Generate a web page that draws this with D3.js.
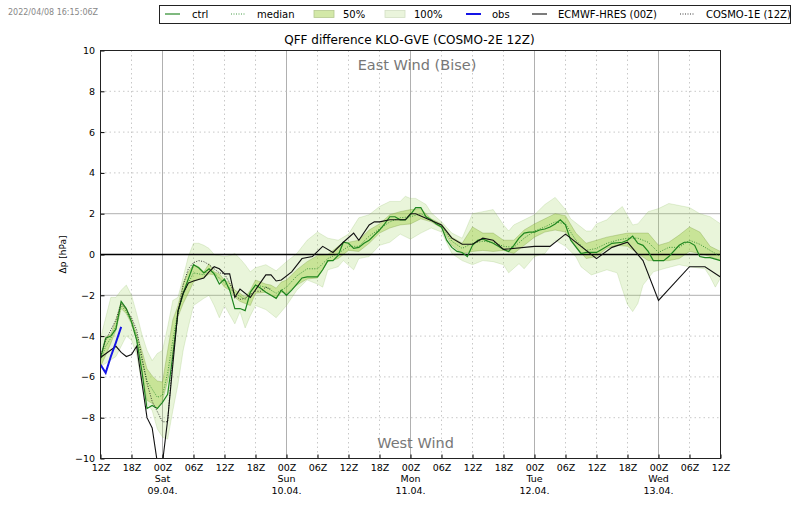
<!DOCTYPE html>
<html>
<head>
<meta charset="utf-8">
<script src="https://cdnjs.cloudflare.com/ajax/libs/d3/7.8.5/d3.min.js"></script>
<style>
  html, body { margin: 0; padding: 0; background: #fff; }
  svg { display: block; }
  text { font-family: "DejaVu Sans", sans-serif; fill: #000; }
</style>
</head>
<body>
<div id="chart"></div>
<script>
const width = 800;
const height = 509;

// hours since 08.04. 12Z
const xTickHours = d3.range(0, 121, 6);
const xTickLabels = ["12Z","18Z","00Z","06Z","12Z","18Z","00Z","06Z","12Z","18Z","00Z","06Z","12Z","18Z","00Z","06Z","12Z","18Z","00Z","06Z","12Z"];
const dayHours = [12, 36, 60, 84, 108];
const dayNames = ["Sat", "Sun", "Mon", "Tue", "Wed"];
const dayDates = ["09.04.", "10.04.", "11.04.", "12.04.", "13.04."];
const yTicks = [-10, -8, -6, -4, -2, 0, 2, 4, 6, 8, 10];

const maxHours = [0,1,2,3,4,5,6,7,8,9,10,11,12,13,14,15,16,17,18,19,20,21,22,23,24,25,26,27,28,29,30,32,34,36,38,40,42,44,46,48,50,52,54,56,58,59,60,61,63,64,66,68,70,72,74,76,78,79,80,82,84,86,88,90,91,94,95,96,98,99,101,102,103,104,106,108,110,112,114,116,118,120];
const maxValues = [-4.1,-3.1,-2.1,-2.1,-1.75,-1.5,-2,-2.9,-3.9,-4.7,-5.2,-4.85,-4.7,-3.55,-2.25,-2.1,-1.1,-0.1,0.55,0.55,0.45,0.3,0,-0.05,-0.1,-0.05,0.05,-0.2,-0.5,-0.85,-0.65,-0.5,-0.8,-0.35,0.05,0.7,1.1,0.8,0.7,1,1.8,1.95,2.35,2.6,2.6,2.85,2.75,2.75,2.45,2.05,1.6,1.05,0.8,2,2.1,2.2,1.45,1.15,1.45,1.7,1.95,2.45,2.8,2.2,1.75,1.15,1.15,1.5,1.7,1.95,2.35,1.9,1.45,1.5,2.1,2.25,2.5,2.4,2.3,2,1.85,1.5];
const minHours = [0,3,5,6,7,8,9,10,11,12,13,14,15,16,17,18,20,21,22,23,24,26,27,28,29,30,32,34,36,38,40,42,43,44,46,47,49,50,52,54,56,58,60,62,64,66,68,70,72,74,76,78,79,81,82,84,86,88,90,92,93,95,98,100,101,102,103,104,105,107,109,112,114,117,118,119,120];
const minValues = [-5.5,-5,-4,-4.2,-4.9,-6.35,-7.3,-7.65,-8.55,-8.95,-9.05,-7.65,-6.35,-4.7,-3.55,-2.5,-2.15,-2,-2.5,-3.1,-2.5,-3.4,-2.8,-3.6,-3,-2.5,-2.7,-3.1,-2.5,-1.75,-1.25,-1.45,-1.6,-0.75,-0.6,-0.3,-0.75,-0.2,-0.1,0.45,0.6,1,0.75,1.05,1.3,1.1,0.05,-0.3,-0.5,-0.3,-0.35,-0.5,-0.9,-0.45,-0.7,-0.1,0.05,0.7,0.4,-0.1,-0.6,-1,-0.75,-0.9,-1.7,-2.45,-2.8,-2.4,-1.5,-0.85,-0.7,-0.5,-0.6,-0.7,-1.1,-1.6,-1.15];

const q75Hours = [0,1,2,3,4,5,6,7,8,9,10,11,12,13,14,15,16,17,18,19,20,21,22,23,24,25,26,27,28,29,30,32,33,34,35,36,38,40,42,44,46,47,48,50,52,54,56,58,60,62,64,66,68,70,72,74,76,78,80,82,84,86,88,90,92,94,96,98,100,102,104,106,108,110,112,114,116,118,120];
const q75Values = [-5,-4.05,-3.9,-3.2,-2.3,-2.65,-3.15,-3.9,-4.7,-5.6,-5.95,-6.2,-6.25,-4.7,-3.2,-2.5,-1.4,-0.85,-0.5,-0.6,-0.85,-0.45,-0.85,-0.95,-1.25,-1.4,-1.75,-1.9,-2.1,-1.75,-1.25,-1.45,-1.5,-1.65,-1.35,-1.25,-0.75,-0.35,-0.05,0,0.4,0.6,0.6,0.7,1.2,1.5,1.95,2.1,2.2,2.25,1.75,1.5,0.85,0.55,1.35,1.05,1.05,0.7,0.7,1.2,1.5,1.75,2,1.9,1.05,0.55,0.7,0.85,0.95,1.05,1.05,1.05,0.45,0.6,0.95,1.35,1.1,0.4,0.15];
const q25Hours = [0,1,2,3,4,5,6,7,8,9,10,11,12,13,14,15,16,17,18,19,20,21,22,23,24,25,26,27,28,29,30,32,34,35,36,38,40,42,44,46,48,50,52,54,56,58,60,62,64,66,68,70,72,74,76,78,80,82,84,86,88,90,92,94,96,98,100,102,104,106,108,110,112,114,116,118,120];
const q25Values = [-5.5,-4.95,-4.35,-3.7,-2.65,-2.9,-3.4,-4.2,-5.75,-7.15,-7.3,-7.55,-7.15,-6.2,-4.7,-3.05,-2.4,-1.9,-1.35,-1.2,-1.15,-0.95,-1,-1.25,-1.6,-1.75,-2.1,-2.3,-2.4,-2.5,-1.9,-1.85,-2.15,-1.85,-1.9,-1.5,-1.2,-1.15,-0.35,-0.2,0.2,0.15,0.55,1.05,1.3,1.45,1.5,1.75,1.6,1.3,0.45,0.05,0.15,0.2,0.15,0.2,0.05,0.45,0.85,1.1,1.2,1.1,0.4,-0.2,-0.1,0.3,0.45,0.4,0.05,-0.3,-0.3,-0.3,-0.2,0.15,0.05,-0.1,-0.3];

const medianHours = [0,1,2,3,4,5,6,7,8,9,10,11,12,13,14,15,16,17,18,20,21,22,24,26,28,30,32,34,36,38,40,42,44,46,48,50,52,54,56,58,60,62,64,66,68,70,72,74,76,78,80,82,84,86,88,90,92,94,96,98,100,102,104,106,108,110,112,114,116,118,120];
const medianValues = [-5.2,-4.5,-4.1,-3.5,-2.5,-2.8,-3.3,-4,-5.2,-6.2,-6.6,-7,-6.9,-5.8,-4.2,-2.8,-2,-1.4,-0.9,-1,-0.7,-0.9,-1.4,-1.9,-2.2,-1.5,-1.6,-1.9,-1.6,-1.05,-0.7,-0.7,-0.2,0.05,0.4,0.4,0.9,1.25,1.6,1.8,1.85,2,1.7,1.4,0.65,0.3,0.55,0.65,0.6,0.4,0.35,0.8,1.15,1.35,1.6,1.5,0.7,0.2,0.3,0.55,0.7,0.8,0.8,0.6,0.1,0.35,0.35,0.7,0.5,0.2,-0.1];

const ctrlHours = [0,1,2,3,4,5,6,7,8,9,10,11,12,13,14,15,16,17,18,19,20,21,22,23,24,25,26,27,28,29,30,31,32,33,34,35,36,37,38,39,40,42,43,44,45,46,47,48,49,50,51,52,53,54,55,56,57,58,59,60,61,62,63,64,65,66,67,68,69,70,71,72,73,74,76,77,78,79,80,81,82,83,84,85,86,87,88,89,90,91,93,94,96,97,99,101,102,103,104,105,106,107,108,109,110,112,113,114,115,116,117,118,120];
const ctrlValues = [-5.1,-4.1,-4,-3.65,-2.3,-2.65,-3.3,-4.2,-5.7,-7.55,-7.4,-7.55,-7.25,-6.85,-4.95,-2.8,-1.9,-1.2,-0.5,-0.65,-0.9,-0.7,-0.95,-1.45,-1.2,-1.75,-2.65,-2.65,-2.75,-1.85,-1.5,-1.65,-1.85,-2,-2.15,-1.75,-2,-1.75,-1.45,-1.15,-1.1,-1.1,-0.75,-0.3,-0.3,-0.05,0.6,0.55,0.3,0.35,0.55,0.7,0.95,1.2,1.5,1.85,1.85,1.7,1.7,1.95,2.3,2.3,1.85,1.7,1.5,1.35,0.7,0.35,0.15,0.1,-0.1,0.45,0.7,0.75,0.55,0.4,0.25,0.15,0.45,0.8,1.05,1.1,1.1,1.2,1.25,1.35,1.5,1.7,1.45,0.7,0.05,0.1,0.1,0.25,0.55,0.6,0.7,0.9,0.55,0.45,0.15,-0.3,-0.3,-0.3,-0.1,0.45,0.6,0.6,0.45,-0.1,-0.15,-0.15,-0.3];

const obsHours = [0,1,2,3,4];
const obsValues = [-5.4,-5.8,-5,-4.3,-3.55];

const ecmwfHours = [0,3,4,5,6,7,9,10,11,12,13,14,15,16,17,18,20,21,22,23,24,25,26,27,29,32,33,34,35,37,39,41,43,45,47,49,50,52,53,54,56,59,60,61,66,68,70,72,74,76,78,84,87,90,91,96,99,102,105,108,114,117,120];
const ecmwfValues = [-5.05,-4.5,-4.8,-5,-4.9,-4.5,-8,-8.5,-10.2,-10.2,-8.1,-5.4,-2.75,-1.9,-1.4,-1.3,-1.15,-0.85,-0.6,-0.7,-0.95,-0.95,-2.1,-1.7,-2.1,-1,-1,-1.3,-1.25,-0.85,-0.2,-0.1,0.4,0.1,0.6,1.05,0.7,1.45,1.6,1.6,1.7,1.7,2,2,1.45,0.8,0.5,0.5,0.8,0.7,0.25,0.4,0.4,1,0.8,-0.2,0.35,0.6,-0.3,-2.25,-0.6,-0.6,-1.1];

const cosmoHours = [0,1,2,3,4,5,6,7,8,9,10,11,12,13,14,15,16,17,18,19,20,21,22,23,24,25,26,27,28,29,30,31,32,33];
const cosmoValues = [-5,-4.2,-3.7,-3.2,-2.4,-2.7,-3.1,-3.7,-5,-6.3,-7.2,-7.7,-8.2,-8.2,-5,-2.9,-1.5,-0.7,-0.4,-0.3,-0.35,-0.5,-0.7,-0.9,-0.95,-1.4,-2,-2.2,-2.15,-1.95,-1.8,-1.8,-1.6,-1.7];

const legendLabels = ["ctrl", "median", "50%", "100%", "obs", "ECMWF-HRES (00Z)", "COSMO-1E (12Z)"];
const legendKinds = ["ctrl", "median", "q50", "q100", "obs", "ecmwf", "cosmo"];
const legendKeyX = [165, 231, 314, 385, 466, 532, 680];
const legendTextX = [192, 257, 343, 414, 492, 558, 706];

const plotLeft = 100.5, plotRight = 720.5, plotTop = 50.5, plotBottom = 458.5;

const xScale = d3.scaleLinear().domain([0, 120]).range([plotLeft, plotRight]);
const yScale = d3.scaleLinear().domain([-10, 10]).range([plotBottom, plotTop]);

const svg = d3.select("#chart").append("svg").attr("width", width).attr("height", height);

svg.append("clipPath").attr("id", "plot")
  .append("rect").attr("x", plotLeft).attr("y", plotTop).attr("width", plotRight - plotLeft).attr("height", plotBottom - plotTop);

// grid: 00Z and +-2 are solid, the rest dotted
const grid = svg.append("g");
xTickHours.slice(1, -1).forEach((h) => {
  const solid = (h - 12) % 24 === 0;
  grid.append("line")
    .attr("x1", xScale(h)).attr("x2", xScale(h))
    .attr("y1", plotTop).attr("y2", plotBottom)
    .attr("stroke", solid ? "#b0b0b0" : "#c8c8c8")
    .attr("stroke-width", 1)
    .attr("stroke-dasharray", solid ? null : "1.5,3");
});
yTicks.slice(1, -1).filter((v) => v !== 0).forEach((v) => {
  const solid = Math.abs(v) === 2;
  grid.append("line")
    .attr("x1", plotLeft).attr("x2", plotRight)
    .attr("y1", yScale(v)).attr("y2", yScale(v))
    .attr("stroke", solid ? "#b0b0b0" : "#c8c8c8")
    .attr("stroke-width", 1)
    .attr("stroke-dasharray", solid ? null : "1.5,3");
});

const line = d3.line().x((d) => xScale(d[0])).y((d) => yScale(d[1]));
const plot = svg.append("g").attr("clip-path", "url(#plot)");

function band(upHours, upValues, lowHours, lowValues, fill, edge) {
  const pts = d3.zip(upHours, upValues).concat(d3.zip(lowHours, lowValues).reverse());
  plot.append("path")
    .attr("d", line(pts) + "Z")
    .attr("fill", fill)
    .attr("stroke", edge)
    .attr("stroke-width", 0.8);
}

function series(hours, values, color, sw, dash) {
  plot.append("path")
    .attr("d", line(d3.zip(hours, values)))
    .attr("fill", "none")
    .attr("stroke", color)
    .attr("stroke-width", sw)
    .attr("stroke-dasharray", dash || null);
}

band(maxHours, maxValues, minHours, minValues, "rgba(165,215,100,0.24)", "rgba(130,180,80,0.25)");
band(q75Hours, q75Values, q25Hours, q25Values, "rgba(155,205,60,0.42)", "rgba(120,155,60,0.4)");

plot.append("line")
  .attr("x1", plotLeft).attr("x2", plotRight)
  .attr("y1", yScale(0)).attr("y2", yScale(0))
  .attr("stroke", "#000").attr("stroke-width", 1.3);

series(medianHours, medianValues, "#2f8f2f", 0.9, "1,1.5");
series(ctrlHours, ctrlValues, "#1f861f", 1.2);
series(cosmoHours, cosmoValues, "#222", 0.9, "1,1.5");
series(ecmwfHours, ecmwfValues, "#111", 1.1);
series(obsHours, obsValues, "#1414e6", 2);

svg.append("text").attr("x", 417).attr("y", 69.5)
  .attr("text-anchor", "middle").attr("font-size", 14.5).style("fill", "#777")
  .text("East Wind (Bise)");
svg.append("text").attr("x", 415.5).attr("y", 448)
  .attr("text-anchor", "middle").attr("font-size", 14.5).style("fill", "#777")
  .text("West Wind");

// axes, ticks point inwards
const xAxis = d3.axisBottom(xScale).tickValues(xTickHours).tickSize(-4).tickPadding(5.5)
  .tickFormat((d, i) => xTickLabels[i]);
const yAxis = d3.axisLeft(yScale).tickValues(yTicks).tickSize(-4).tickPadding(5.5)
  .tickFormat((d) => (d < 0 ? "\u2212" + Math.abs(d) : d));

svg.append("g").attr("transform", "translate(0," + plotBottom + ")").call(xAxis);
svg.append("g").attr("transform", "translate(" + plotLeft + ",0)").call(yAxis);
svg.selectAll(".domain").attr("stroke", "none");
svg.selectAll(".tick text").style("font-family", '"DejaVu Sans", sans-serif').style("font-size", "9.5px");

svg.append("rect")
  .attr("x", plotLeft).attr("y", plotTop).attr("width", plotRight - plotLeft).attr("height", plotBottom - plotTop)
  .attr("fill", "none").attr("stroke", "#222").attr("stroke-width", 1);

dayHours.forEach((h, i) => {
  svg.append("text").attr("x", xScale(h)).attr("y", 482).attr("text-anchor", "middle").attr("font-size", 9.5).text(dayNames[i]);
  svg.append("text").attr("x", xScale(h)).attr("y", 494).attr("text-anchor", "middle").attr("font-size", 9.5).text(dayDates[i]);
});

svg.append("text").attr("x", 409.5).attr("y", 44).attr("text-anchor", "middle").attr("font-size", 12)
  .text("QFF difference KLO-GVE (COSMO-2E 12Z)");
svg.append("text").attr("transform", "translate(66,254.5) rotate(-90)").attr("text-anchor", "middle").attr("font-size", 9)
  .text("\u0394p [hPa]");
svg.append("text").attr("x", 8).attr("y", 15).attr("font-size", 8).style("fill", "#888")
  .text("2022/04/08 16:15:06Z");

// legend
const legend = svg.append("g");
legend.append("rect").attr("x", 159.5).attr("y", 5.5).attr("width", 631).attr("height", 18)
  .attr("fill", "#fff").attr("stroke", "#222").attr("stroke-width", 1);
legendKinds.forEach((kind, i) => {
  const x = legendKeyX[i];
  const y = 14;
  if (kind === "q50" || kind === "q100") {
    legend.append("rect").attr("x", x).attr("y", y - 3.5).attr("width", 20).attr("height", 7)
      .attr("fill", kind === "q50" ? "#d3e8a8" : "#eaf4dc")
      .attr("stroke", kind === "q50" ? "#b5c98f" : "#d3dfc4").attr("stroke-width", 0.8);
  } else {
    const styles = {
      ctrl: ["#2a8a2a", 1.2, null],
      median: ["#2f8f2f", 0.9, "1,1.5"],
      obs: ["#1414e6", 2, null],
      ecmwf: ["#111", 1.1, null],
      cosmo: ["#222", 0.9, "1,1.5"],
    };
    const s = styles[kind];
    const len = kind === "median" || kind === "cosmo" ? 14 : 15;
    legend.append("line").attr("x1", x).attr("x2", x + len).attr("y1", y).attr("y2", y)
      .attr("stroke", s[0]).attr("stroke-width", s[1]).attr("stroke-dasharray", s[2]);
  }
  legend.append("text").attr("x", legendTextX[i]).attr("y", y + 3.5).attr("font-size", 10).text(legendLabels[i]);
});
</script>
</body>
</html>
